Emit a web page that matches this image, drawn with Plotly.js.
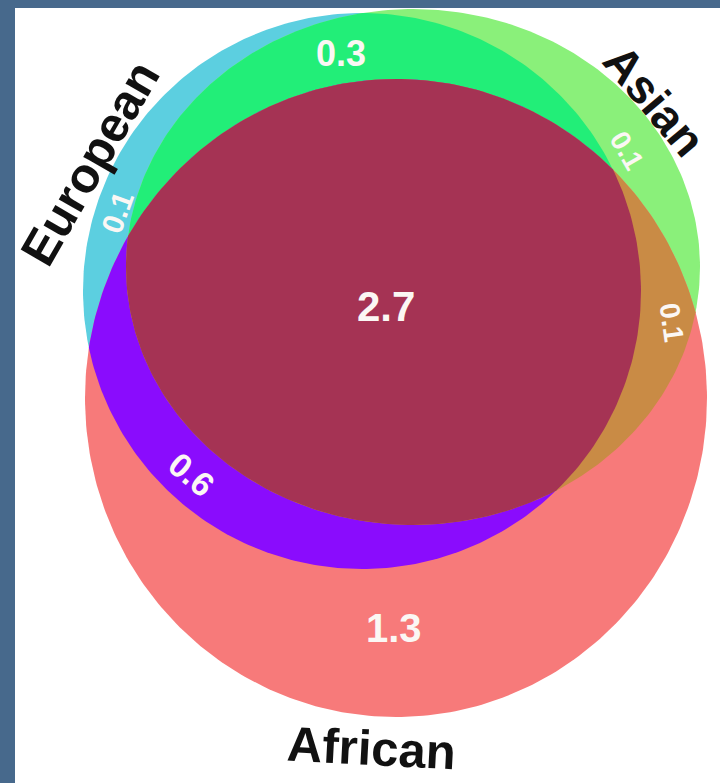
<!DOCTYPE html>
<html>
<head>
<meta charset="utf-8">
<script src="https://cdn.plot.ly/plotly-3.0.1.min.js"></script>
<style>
  html, body { margin: 0; padding: 0; background: #47698c; }
  #chart { width: 720px; height: 783px; }
</style>
</head>
<body>
<div id="chart"></div>
<script>
// ---- Data ----
const setNames = ["European", "Asian", "African"];
// ellipse centre x, centre y, radius x, radius y (chart units)
const setCentreX = [362, 413, 396];
const setCentreY = [291, 267, 398];
const setRadiusX = [279, 287, 311];
const setRadiusY = [278, 258, 319];

// regions: membership in [European, Asian, African]
const regionMembers = [
  [1, 0, 0], [0, 1, 0], [0, 0, 1],
  [1, 1, 0], [1, 0, 1], [0, 1, 1],
  [1, 1, 1]
];
const regionValues = ["0.1", "0.1", "1.3", "0.3", "0.6", "0.1", "2.7"];
const regionColors = ["#5ccfe0", "#8af07a", "#f77a7a", "#22ee78", "#8a0cfd", "#c98b45", "#a53354"];
// label placement per region: x, y, angle
const labelX = [117, 627, 394, 341, 191, 672, 386];
const labelY = [212, 150, 628, 53, 474, 322, 306];
const labelAngle = [-70, 60, 0, 0, 40, 82, 0];
const labelSize = [30, 28, 40, 36, 34, 28, 42];

// set name placement
const nameX = [90, 655, 371];
const nameY = [163, 100, 748];
const nameAngle = [-60, 50, 3];
const nameSize = [49, 47, 49];

// ---- Geometry helpers ----
function ellipse(i, n) {
  const pts = [];
  for (let k = 0; k < n; k++) {
    const t = 2 * Math.PI * k / n;
    pts.push([setCentreX[i] + setRadiusX[i] * Math.cos(t), setCentreY[i] + setRadiusY[i] * Math.sin(t)]);
  }
  return pts;
}
function area(p) {
  let s = 0;
  for (let i = 0; i < p.length; i++) {
    const a = p[i], b = p[(i + 1) % p.length];
    s += a[0] * b[1] - b[0] * a[1];
  }
  return s / 2;
}
function clip(subject, clipPoly) {
  const sgn = Math.sign(area(clipPoly));
  let out = subject;
  for (let i = 0; i < clipPoly.length && out.length; i++) {
    const A = clipPoly[i], B = clipPoly[(i + 1) % clipPoly.length];
    const inside = p => sgn * ((B[0] - A[0]) * (p[1] - A[1]) - (B[1] - A[1]) * (p[0] - A[0])) >= 0;
    const inter = (P, Q) => {
      const a1 = B[1] - A[1], b1 = A[0] - B[0], c1 = a1 * A[0] + b1 * A[1];
      const a2 = Q[1] - P[1], b2 = P[0] - Q[0], c2 = a2 * P[0] + b2 * P[1];
      const d = a1 * b2 - a2 * b1;
      return [(b2 * c1 - b1 * c2) / d, (a1 * c2 - a2 * c1) / d];
    };
    const inp = out; out = [];
    for (let j = 0; j < inp.length; j++) {
      const P = inp[j], Q = inp[(j + 1) % inp.length];
      const pi = inside(P), qi = inside(Q);
      if (pi) { out.push(P); if (!qi) out.push(inter(P, Q)); }
      else if (qi) { out.push(inter(P, Q)); }
    }
  }
  return out;
}

const shapes = setNames.map((_, i) => ellipse(i, 360));
// paint order: singles, then pairs, then triple
const order = regionMembers.map((m, i) => i).sort((a, b) =>
  regionMembers[a].reduce((s, v) => s + v, 0) - regionMembers[b].reduce((s, v) => s + v, 0));

const traces = order.map(r => {
  const idx = regionMembers[r].map((v, i) => v ? i : -1).filter(i => i >= 0);
  let poly = shapes[idx[0]];
  for (let k = 1; k < idx.length; k++) poly = clip(poly, shapes[idx[k]]);
  const xs = poly.map(p => p[0]); xs.push(poly[0][0]);
  const ys = poly.map(p => p[1]); ys.push(poly[0][1]);
  return {
    type: "scatter", mode: "lines", x: xs, y: ys, fill: "toself",
    fillcolor: regionColors[r], line: { width: 0, color: regionColors[r] },
    hoverinfo: "skip", showlegend: false
  };
});

const annotations = [];
regionValues.forEach((v, i) => annotations.push({
  x: labelX[i], y: labelY[i], xref: "x", yref: "y", text: v, showarrow: false,
  textangle: labelAngle[i],
  font: { family: "Liberation Sans, Arial, sans-serif", size: labelSize[i], color: "#fbf7f4", weight: "bold" }
}));
setNames.forEach((n, i) => annotations.push({
  x: nameX[i], y: nameY[i], xref: "x", yref: "y", text: n, showarrow: false,
  textangle: nameAngle[i],
  font: { family: "Liberation Sans, Arial, sans-serif", size: nameSize[i], color: "#111111", weight: "bold" }
}));

const layout = {
  width: 720, height: 783,
  margin: { l: 15, r: 0, t: 8, b: 0, pad: 0 },
  paper_bgcolor: "#47698c",
  plot_bgcolor: "#ffffff",
  xaxis: { range: [15, 720], showgrid: false, zeroline: false, showticklabels: false, ticks: "", fixedrange: true },
  yaxis: { range: [783, 8], showgrid: false, zeroline: false, showticklabels: false, ticks: "", fixedrange: true },
  annotations: annotations,
  showlegend: false
};

Plotly.newPlot("chart", traces, layout, { displayModeBar: false, staticPlot: true });
</script>
</body>
</html>
